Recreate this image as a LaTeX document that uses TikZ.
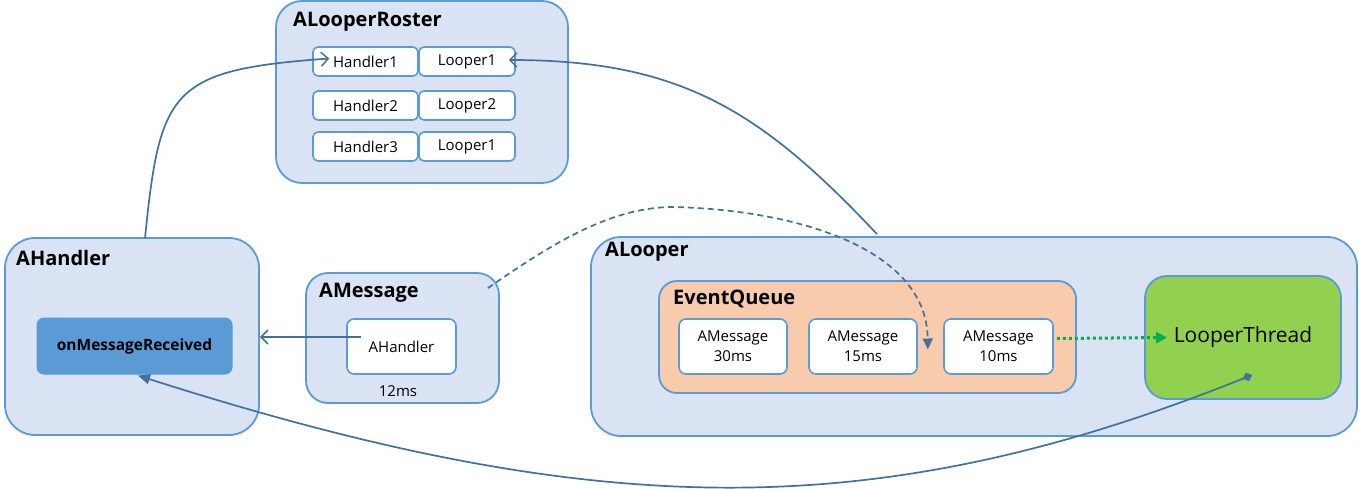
\documentclass[tikz,border=0pt]{standalone}
\usepackage{fontspec}
\setmainfont{Open Sans}
\usetikzlibrary{arrows.meta}
\definecolor{bfill}{HTML}{DAE3F3}
\definecolor{bline}{HTML}{5B9BD5}
\definecolor{aline}{HTML}{41719C}
\definecolor{qfill}{HTML}{F8CBAD}
\definecolor{tfill}{HTML}{92D050}
\definecolor{gline}{HTML}{00B050}
\definecolor{mfill}{HTML}{5B9BD5}
\begin{document}
\begin{tikzpicture}[x=1pt,y=-1pt,
  container/.style={draw=bline, fill=bfill, line width=1.8pt, inner sep=0pt},
  cell/.style={draw=bline, fill=white, line width=1.6pt, rounded corners=5pt, inner sep=0pt, font=\fontsize{15}{20}\selectfont, align=center},
  title/.style={anchor=west, inner sep=0pt, font=\fontsize{20}{23}\selectfont\bfseries},
  conn/.style={draw=aline, line width=1.7pt},
  barb/.style={-{Straight Barb[length=7pt,width=14pt,line width=1.5pt]}}
]
\useasboundingbox (0,0) rectangle (1359,489);

% ALooperRoster
\node[container, rounded corners=26pt, minimum width=292pt, minimum height=182pt] (roster) at (422,92) {};
\node[title] (rostert) at (293,22) {ALooperRoster};
\node[cell, minimum width=105pt, minimum height=29pt] (h1) at (365.5,61.5) {Handler1};
\node[cell, minimum width=96pt, minimum height=29pt] (l1) at (467,61.5) {Looper1};
\node[cell, minimum width=105pt, minimum height=29pt] (h2) at (365.5,105.5) {Handler2};
\node[cell, minimum width=96pt, minimum height=29pt] (l2) at (467,105.5) {Looper2};
\node[cell, minimum width=105pt, minimum height=29pt] (h3) at (365.5,146.5) {Handler3};
\node[cell, minimum width=96pt, minimum height=29pt] (l3) at (467,146.5) {Looper1};

% AHandler
\node[container, rounded corners=30pt, minimum width=254pt, minimum height=197pt] (ahbox) at (132,336.5) {};
\node[title] (aht) at (16,258) {AHandler};
\node[draw=mfill, fill=mfill, line width=1pt, rounded corners=7pt, minimum width=195pt, minimum height=56pt, inner sep=0pt,
      font=\fontsize{15.5}{18}\selectfont\bfseries] (onmr) at (134.5,346) {onMessageReceived};

% AMessage
\node[container, rounded corners=22pt, minimum width=193pt, minimum height=130pt] (amsg) at (402.5,338) {};
\node[title] (amsgt) at (319,293) {AMessage};
\node[cell, rounded corners=7pt, minimum width=109pt, minimum height=55pt] (ah2) at (401.5,346.5) {AHandler};
\node[inner sep=0pt, font=\fontsize{15}{18}\selectfont] (ms12) at (398,391) {12ms};

% ALooper
\node[container, rounded corners=30pt, minimum width=766pt, minimum height=199pt] (alooper) at (974,336.5) {};
\node[title] (aloopert) at (605,252) {ALooper};
\node[draw=bline, fill=qfill, line width=1.8pt, rounded corners=18pt, minimum width=417pt, minimum height=112pt, inner sep=0pt] (eq) at (867.5,337) {};
\node[title] (eqt) at (673,299) {EventQueue};
\node[cell, rounded corners=7pt, minimum width=108pt, minimum height=55pt] (m30) at (733,346.5) {AMessage\\30ms};
\node[cell, rounded corners=7pt, minimum width=108pt, minimum height=55pt] (m15) at (863,346.5) {AMessage\\15ms};
\node[cell, rounded corners=7pt, minimum width=109pt, minimum height=55pt] (m10) at (998.5,346.5) {AMessage\\10ms};
\node[draw=bline, fill=tfill, line width=1.8pt, rounded corners=22pt, minimum width=196pt, minimum height=123pt, inner sep=0pt,
      font=\fontsize{21}{25}\selectfont] (thread) at (1243,337.5) {LooperThread};

% connectors
\draw[conn, barb] ([xshift=13pt,yshift=-1pt]ahbox.north) .. controls (160,90) and (170,70) .. ([xshift=17pt,yshift=3pt]h1.west);
\draw[conn, barb] ([xshift=-97pt,yshift=2pt]alooper.north) .. controls (760,110) and (680,60) .. ([xshift=-7pt,yshift=1.5pt]l1.east);
\draw[conn, dash pattern=on 6pt off 4pt, -{Triangle[length=11pt,width=10pt]}]
  ([xshift=-12pt,yshift=-16pt]amsg.north east) .. controls (550,245) and (610,207) .. (673,207)
  .. controls (800,210) and (927,250) .. ([xshift=10pt,yshift=-3pt]m15.east);
\draw[conn, barb] ([xshift=15pt,yshift=9.5pt]ah2.west) -- ([yshift=-0.5pt]ahbox.east);
\draw[draw=gline, line width=3pt, dash pattern=on 3pt off 3pt, -{Triangle[length=11pt,width=11pt]}]
  ([xshift=3pt,yshift=8pt]m10.east) -- ([xshift=23pt]thread.west);
\draw[conn, {Diamond[length=10pt,width=9pt]}-{Triangle[length=12pt,width=10pt]}]
  ([xshift=9pt,yshift=-37.5pt]thread.center) .. controls (880,524) and (603,524) .. ([xshift=3.5pt,yshift=-1pt]onmr.south);
\end{tikzpicture}
\end{document}
